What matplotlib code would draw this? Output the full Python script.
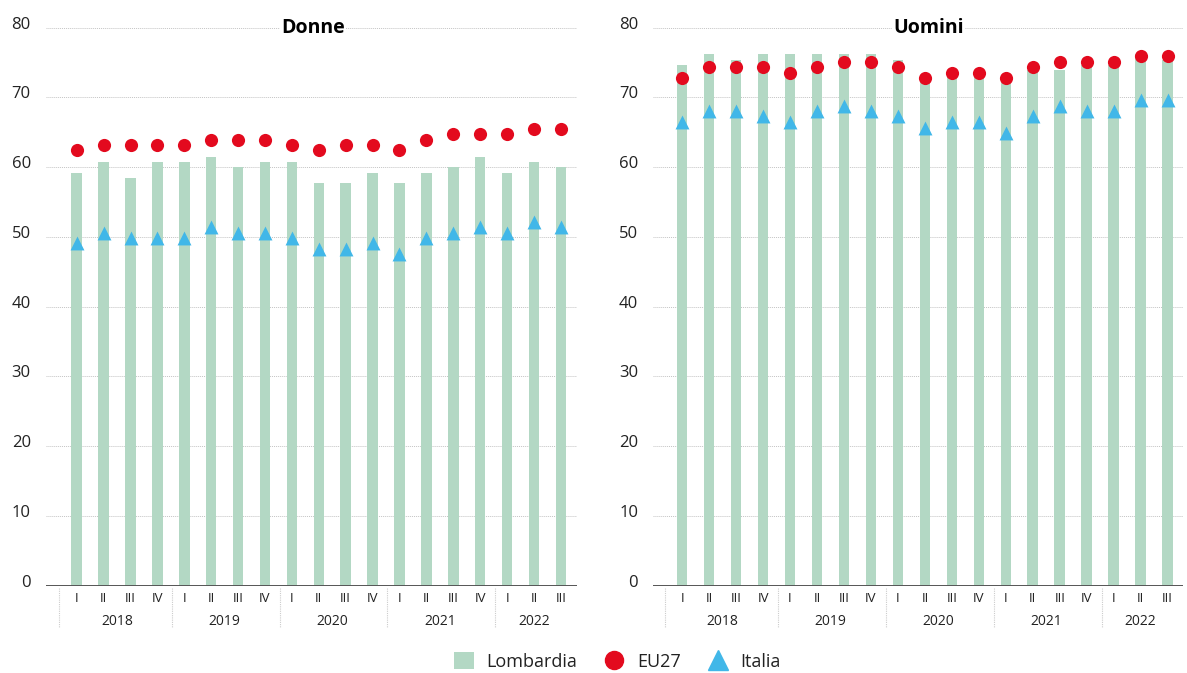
import matplotlib
matplotlib.use("Agg")
import matplotlib.pyplot as plt
from matplotlib.patches import Patch
from matplotlib.lines import Line2D
from matplotlib.transforms import ScaledTranslation

plt.rcParams["font.family"] = ["Open Sans", "DejaVu Sans"]

# ---- data ----
quarters = ["I", "II", "III", "IV"] * 4 + ["I", "II", "III"]
years = ["2018", "2019", "2020", "2021", "2022"]
year_sizes = [4, 4, 4, 4, 3]

lombardia_donne = [59.2, 60.8, 58.4, 60.8, 60.8, 61.5, 60.0, 60.8, 60.8, 57.7,
                   57.7, 59.2, 57.7, 59.2, 60.0, 61.5, 59.2, 60.8, 60.0]
eu27_donne = [62.4, 63.2, 63.2, 63.2, 63.2, 63.9, 63.9, 63.9, 63.2, 62.4,
              63.2, 63.2, 62.4, 63.9, 64.7, 64.7, 64.7, 65.5, 65.5]
italia_donne = [49.1, 50.6, 49.9, 49.9, 49.9, 51.4, 50.6, 50.6, 49.9, 48.3,
                48.3, 49.1, 47.5, 49.9, 50.6, 51.4, 50.6, 52.2, 51.4]

lombardia_uomini = [74.7, 76.2, 75.4, 76.2, 76.2, 76.2, 76.2, 76.2, 75.4, 73.1,
                    73.1, 73.1, 72.3, 73.9, 73.9, 74.7, 74.7, 76.2, 75.4]
eu27_uomini = [72.8, 74.3, 74.3, 74.3, 73.5, 74.3, 75.1, 75.1, 74.3, 72.8,
               73.5, 73.5, 72.8, 74.3, 75.1, 75.1, 75.1, 75.9, 75.9]
italia_uomini = [66.5, 68.1, 68.1, 67.3, 66.5, 68.1, 68.8, 68.1, 67.3, 65.6,
                 66.5, 66.5, 64.9, 67.3, 68.8, 68.1, 68.1, 69.6, 69.6]

GREEN = "#b3d8c4"
RED = "#e30a1e"
BLUE = "#41b7e8"
GRID = "#c4c4c4"
TEXT = "#222222"

fig = plt.figure(figsize=(11.87, 6.73), dpi=100)
ax_l = fig.add_axes([0.0388, 0.1297, 0.4473, 0.8291])
ax_r = fig.add_axes([0.5504, 0.1297, 0.4462, 0.8291])


def draw_panel(ax, title, title_x, lomb, eu, ita, xlim):
    x = list(range(len(quarters)))
    ax.bar(x, lomb, width=0.39, color=GREEN, zorder=2)
    ax.scatter(x, eu, s=90, marker="o", color=RED, zorder=4, linewidths=0)
    ax.scatter(x, ita, s=100, marker="^", color=BLUE, zorder=3, linewidths=0)

    ax.set_xlim(*xlim)
    ax.set_ylim(0, 80)
    ax.set_yticks(range(0, 81, 10))
    ax.set_xticks([])
    for s in ax.spines.values():
        s.set_visible(False)
    ax.set_axisbelow(True)
    ax.yaxis.grid(True, linestyle=(0, (1, 1)), color=GRID, linewidth=0.7)
    ax.axhline(0, color="#555555", linewidth=1.4, zorder=5)
    ax.tick_params(axis="y", length=0, pad=11, labelsize=12, labelcolor=TEXT)
    off = ScaledTranslation(0, 0.05, fig.dpi_scale_trans)
    for lab in ax.get_yticklabels():
        lab.set_transform(lab.get_transform() + off)

    # quarter and year labels
    tr = ax.get_xaxis_transform()
    for i, q in enumerate(quarters):
        ax.text(i, -0.023, q, transform=tr, ha="center", va="center",
                fontsize=9.5, color=TEXT, clip_on=False)
    start = 0
    for k, (yr, n) in enumerate(zip(years, year_sizes)):
        mid = start + (n - 1) / 2
        ax.text(mid, -0.064, yr, transform=tr, ha="center", va="center",
                fontsize=10, color=TEXT, clip_on=False)
        sep = -0.65 if k == 0 else start - 0.45
        ax.plot([sep, sep], [-0.004, -0.074], transform=tr, color="#cccccc",
                linestyle=(0, (1, 1)), linewidth=0.8, clip_on=False)
        start += n

    ax.text(title_x, 80, title, transform=ax.get_yaxis_transform(),
            ha="center", va="center", fontsize=14, fontweight="bold",
            color="black", zorder=6,
            bbox=dict(facecolor="white", edgecolor="none", pad=1))


draw_panel(ax_l, "Donne", 0.503, lombardia_donne, eu27_donne, italia_donne,
           (-1.14, 18.6))
draw_panel(ax_r, "Uomini", 0.52, lombardia_uomini, eu27_uomini, italia_uomini,
           (-1.07, 18.57))

handles = [
    Patch(facecolor=GREEN, edgecolor="none"),
    Line2D([], [], marker="o", color=RED, linestyle="none", markersize=13),
    Line2D([], [], marker="^", color=BLUE, linestyle="none", markersize=14),
]
fig.legend(handles, ["Lombardia", "EU27", "Italia"], loc="center",
           bbox_to_anchor=(0.52, 0.017), ncol=3, frameon=False, fontsize=13,
           handlelength=1.1, handleheight=1.1, handletextpad=0.7,
           columnspacing=1.5, labelcolor=TEXT)

fig.savefig("out.png", dpi=100)
